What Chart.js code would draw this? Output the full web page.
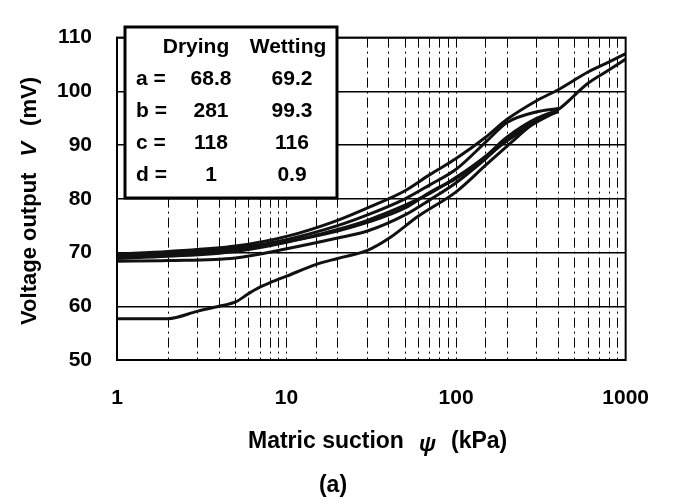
<!DOCTYPE html>
<html>
<head>
<meta charset="utf-8">
<script src="https://cdn.jsdelivr.net/npm/chart.js@4/dist/chart.umd.min.js"></script>
<style>
  body { margin: 0; background: #fff; }
  canvas { display: block; }
</style>
</head>
<body>
<canvas id="suctionChart" width="675" height="497"></canvas>
<script>
// Matric suction (kPa) and voltage output (mV)
const psiInitDry = [1, 2, 3, 4, 5, 6, 7, 8, 10, 15, 20, 30, 40, 60, 100, 150, 200, 300, 400, 600, 800, 1000];
const vInitDry = [57.7, 57.7, 59.1, 60, 60.8, 62.4, 63.6, 64.4, 65.6, 67.8, 68.9, 70.4, 72.6, 76.8, 81.3, 86.3, 89.8, 94.5, 96.6, 101.5, 104, 106];

const psiUpper = [1, 2, 5, 10, 20, 30, 50, 70, 100, 150, 200, 300, 400, 600, 800, 1000];
const vUpper = [69.7, 70.2, 71.2, 73, 76, 78.3, 81.5, 84.5, 87.5, 91.5, 94.8, 98.3, 100.3, 103.6, 105.5, 107];

const psiLoop = [1, 2, 5, 10, 20, 30, 50, 70, 100, 150, 200, 300, 400];
const vWet2 = [69.4, 69.9, 70.8, 72.4, 75, 77, 80, 82.6, 85.5, 90.6, 94.2, 96.2, 96.8];
const vDry2 = [68.9, 69.3, 70.2, 71.9, 74.3, 76, 78.8, 81, 84, 88, 91.5, 95, 96.5];
const vDry3 = [68.4, 68.5, 69, 70.7, 72.7, 74, 77, 79.8, 83, 87.5, 91, 94.7, 96.2];
const vWet3 = [69.1, 69.6, 70.5, 72, 74, 75.6, 78.3, 81.2, 83.8, 87.8, 90.8, 94.3, 96.4];

// fitted parameters shown in the inset table
const paramNames = ['a =', 'b =', 'c =', 'd ='];
const dryingParams = ['68.8', '281', '118', '1'];
const wettingParams = ['69.2', '99.3', '116', '0.9'];

const FONT = '"Liberation Sans", Arial, sans-serif';

const toPoints = (xs, ys) => xs.map((x, i) => ({ x: x, y: ys[i] }));

const curve = (xs, ys) => ({
    data: toPoints(xs, ys),
    borderColor: '#111',
    borderWidth: 3,
    pointRadius: 0,
    cubicInterpolationMode: 'monotone',
    fill: false
});

const figText = {
    id: 'figText',
    afterDraw(chart) {
        const ctx = chart.ctx;
        const area = chart.chartArea;
        ctx.save();

        // plot frame
        ctx.strokeStyle = '#000';
        ctx.lineWidth = 2;
        ctx.setLineDash([]);
        ctx.strokeRect(area.left, area.top, area.right - area.left, area.bottom - area.top);

        // parameter table
        const bx = 125, by = 27, bw = 212, bh = 171;
        ctx.fillStyle = '#fff';
        ctx.fillRect(bx, by, bw, bh);
        ctx.lineWidth = 3;
        ctx.strokeRect(bx, by, bw, bh);

        ctx.fillStyle = '#000';
        ctx.font = 'bold 21px ' + FONT;
        ctx.textBaseline = 'middle';
        ctx.textAlign = 'center';
        ctx.fillText('Drying', 196, 47);
        ctx.fillText('Wetting', 288, 47);
        paramNames.forEach((name, i) => {
            const y = 79 + i * 32;
            ctx.textAlign = 'left';
            ctx.fillText(name, 136, y);
            ctx.textAlign = 'center';
            ctx.fillText(dryingParams[i], 211, y);
            ctx.fillText(wettingParams[i], 292, y);
        });

        // x axis title with italic psi
        ctx.textAlign = 'left';
        ctx.textBaseline = 'alphabetic';
        ctx.font = 'bold 23px ' + FONT;
        ctx.fillText('Matric suction', 248, 448);
        ctx.font = 'italic bold 22px ' + FONT;
        ctx.fillText('ψ', 419, 451);
        ctx.font = 'bold 23px ' + FONT;
        ctx.fillText('(kPa)', 451, 448);

        // panel label
        ctx.textAlign = 'center';
        ctx.fillText('(a)', 333, 492);

        // y axis title with italic V
        ctx.translate(30, 201);
        ctx.rotate(-Math.PI / 2);
        const partA = 'Voltage output';
        const partB = 'V';
        const partC = '(mV)';
        const gap = 16;
        ctx.font = 'bold 22px ' + FONT;
        const wA = ctx.measureText(partA).width;
        const wC = ctx.measureText(partC).width;
        ctx.font = 'italic bold 22px ' + FONT;
        const wB = ctx.measureText(partB).width;
        let x = -(wA + wB + wC + 2 * gap) / 2;
        ctx.textAlign = 'left';
        ctx.textBaseline = 'middle';
        ctx.font = 'bold 22px ' + FONT;
        ctx.fillText(partA, x, 0);
        x += wA + gap;
        ctx.font = 'italic bold 22px ' + FONT;
        ctx.fillText(partB, x, 0);
        x += wB + gap;
        ctx.font = 'bold 22px ' + FONT;
        ctx.fillText(partC, x, 0);

        ctx.restore();
    }
};

new Chart(document.getElementById('suctionChart').getContext('2d'), {
    type: 'line',
    data: {
        datasets: [
            curve(psiInitDry, vInitDry),
            curve(psiUpper, vUpper),
            curve(psiLoop, vWet2),
            curve(psiLoop, vDry2),
            curve(psiLoop, vDry3),
            curve(psiLoop, vWet3)
        ]
    },
    options: {
        responsive: false,
        animation: false,
        layout: { padding: { left: 0, right: 38, top: 21, bottom: 0 } },
        plugins: {
            legend: { display: false },
            tooltip: { enabled: false }
        },
        scales: {
            x: {
                type: 'logarithmic',
                min: 1,
                max: 1000,
                afterFit: s => { s.height = 137; },
                grid: { color: '#000', lineWidth: 1, drawTicks: false },
                border: { display: false, dash: [10, 4, 2, 4] },
                ticks: {
                    autoSkip: false,
                    maxRotation: 0,
                    padding: 26,
                    color: '#000',
                    font: { family: FONT, size: 21, weight: 'bold' },
                    callback: v => {
                        const e = Math.log10(v);
                        return Math.abs(e - Math.round(e)) < 1e-9 ? String(v) : '';
                    }
                }
            },
            y: {
                min: 50,
                max: 110,
                afterFit: s => { s.width = 117; },
                grid: { color: '#000', lineWidth: 1.5, drawTicks: false },
                border: { display: false },
                ticks: {
                    stepSize: 10,
                    padding: 25,
                    color: '#000',
                    font: { family: FONT, size: 21, weight: 'bold' }
                }
            }
        }
    },
    plugins: [figText]
});
</script>
</body>
</html>
